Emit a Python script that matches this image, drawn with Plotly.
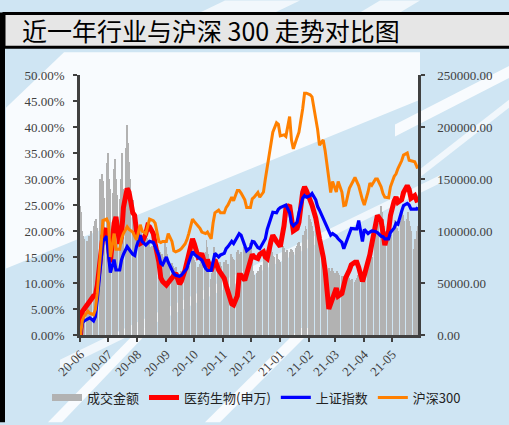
import pandas as pd
import plotly.graph_objects as go

# ---------------- data ----------------
start_date = "2020-06-01"
n_days = 260  # trading days (Mon-Fri) shown

# cumulative return (%) sampled every 2nd trading day, plus the last day
pharma = [0, 4.5, 5.0, 5.8, 6.5, 7.5, 7.7, 9.5, 15, 19,
          20.5, 16.5, 14, 21.5, 22.7, 17.5, 19, 24.5, 28.2, 27.5,
          23.5, 23, 20, 17.6, 17.8, 19.5, 21, 20.8, 19.5, 17.5,
          14, 11, 10.3, 9.6, 10, 11, 11.5, 11.9, 9.8, 10.3,
          12.5, 14, 16, 18.5, 17.5, 15, 15.2, 15.7, 13.1, 14.5,
          12.3, 13.5, 14.5, 12.5, 12, 10.9, 9.5, 8.2, 6, 5.8,
          7.5, 11.5, 11.5, 10.5, 12, 14.5, 15.5, 15, 14.7, 15.5,
          16, 15, 14.7, 18, 19.2, 18, 17.5, 17, 21, 24.3,
          25, 21.5, 20, 20.5, 21.7, 27.5, 28.5, 27.8, 26, 25,
          22.5, 21, 18.5, 15, 12.5, 5, 6, 7.3, 9, 7.5,
          8, 9.5, 11, 12.5, 13.5, 14, 14, 13, 10.3, 11.5,
          14, 15.5, 17.5, 21.5, 23, 22, 19, 17.3, 20, 23,
          25.8, 26.5, 25.5, 26, 27.4, 28.7, 28, 26.3, 26.8, 26.2,
          25.5]
shanghai = [0, 2.3, 2.7, 3.2, 3.3, 2.7, 3.5, 6.8, 14, 18,
            19, 15.5, 12, 14.5, 12.5, 12.5, 14.5, 15.5, 17, 16.5,
            15.5, 15.3, 17, 19.2, 18, 17.3, 17.6, 18, 17.8, 17,
            15.3, 13.8, 13.5, 15, 14, 12.5, 11.8, 11.5, 11.3, 11.5,
            12.4, 12.8, 14, 16, 15.5, 15, 14.7, 14.4, 12.8, 12.4,
            12.4, 14, 15.7, 15, 15.4, 15.7, 16.6, 17, 18, 17.6,
            19, 19.5, 19.2, 17.3, 16.2, 16.8, 18, 17.9, 16.8, 16.6,
            17.8, 18.5, 20.3, 22.5, 23.6, 23.5, 24.2, 24.5, 24.9, 25,
            23.5, 21.5, 21, 21.7, 23.5, 26.3, 26.8, 26.5, 26.8, 27.2,
            26, 24.7, 24, 22.5, 21.8, 20, 19.2, 19.5, 19, 18.5,
            17.8, 16.6, 17.5, 19.5, 20.5, 20.4, 20.4, 22, 18, 20.3,
            19.5, 19.8, 20, 19.9, 19.7, 19, 18.9, 18.5, 18.5, 19.7,
            20.6, 21.5, 21.3, 23.8, 24.9, 25.3, 25, 24.2, 24.3, 24.2,
            24.6]
hs300 = [0, 2.8, 3.6, 4.6, 4.2, 3.9, 4.9, 8, 17, 22,
         22.3, 21.5, 15, 19.5, 16.5, 16.5, 18.5, 19.5, 20.8, 20.3,
         19.8, 19, 18.3, 21.2, 20, 19.5, 21, 22.3, 22, 21.5,
         18, 17.8, 18, 18, 19.5, 18, 16.2, 16, 16.3, 16.6,
         17.5, 18.3, 19.5, 22.3, 21.8, 21, 20.5, 19.8, 19.5, 19.8,
         18.5, 21.5, 23.5, 24, 23.5, 23.5, 24.5, 25, 26.5, 25.8,
         27.8, 27.8, 27.3, 26, 24.5, 24.5, 26.2, 26.5, 27.4, 26.5,
         27.5, 30, 32.5, 36.5, 39, 40.8, 40.5, 38.3, 38.5, 38.2,
         42, 37.5, 35.8, 38, 39, 43.5, 46.5, 46.5, 46.2, 45.8,
         42, 39.5, 36.5, 37.5, 35.5, 30.5, 27.4, 29.5, 27.5, 29.5,
         27.5, 24.9, 25, 28.2, 29, 30.3, 29.5, 28.7, 26, 25,
         27.5, 29.2, 28.8, 30, 30, 28.5, 27.2, 26.5, 26.4, 28.5,
         30.5, 31, 32, 33.5, 34.6, 35, 33.6, 33.5, 33.3, 32.5,
         32]
# daily turnover (one row per week, Mon-Fri)
turnover = [124000, 118000, 100000, 95000, 92000,
            90000, 88000, 95000, 92000, 100000,
            105000, 110000, 108000, 112000, 103000,
            150000, 138000, 155000, 148000, 132000,
            165000, 175000, 152000, 150000, 140000,
            137000, 160000, 169000, 150000, 135000,
            131000, 150000, 175000, 160000, 140000,
            180000, 202000, 185000, 166000, 150000,
            130000, 118000, 110000, 105000, 100000,
            105000, 100000, 99000, 95000, 92000,
            95000, 93000, 90000, 88000, 85000,
            86000, 84000, 80000, 82000, 78000,
            82000, 80000, 76000, 78000, 75000,
            91000, 85000, 78000, 72000, 70000,
            69000, 66000, 64000, 62000, 65000,
            60000, 58000, 57000, 62000, 60000,
            60000, 62000, 58000, 63000, 66000,
            85000, 80000, 75000, 72000, 70000,
            65000, 61000, 68000, 72000, 70000,
            75000, 80000, 91000, 85000, 78000,
            54000, 60000, 70000, 85000, 80000,
            61000, 65000, 70000, 68000, 66000,
            70000, 67000, 72000, 65000, 68000,
            78000, 75000, 73000, 70000, 72000,
            80000, 82000, 78000, 76000, 80000,
            85000, 83000, 80000, 82000, 85000,
            88000, 85000, 70000, 62000, 58000,
            60000, 62000, 58000, 65000, 67000,
            70000, 75000, 78000, 80000, 82000,
            86000, 84000, 80000, 76000, 75000,
            78000, 75000, 73000, 72000, 70000,
            86000, 84000, 80000, 78000, 82000,
            80000, 83000, 78000, 82000, 80000,
            84000, 86000, 88000, 89000, 86000,
            96000, 92000, 100000, 105000, 102000,
            115000, 112000, 109000, 105000, 100000,
            102000, 98000, 100000, 102000, 95000,
            80000, 67000, 70000, 66000, 64000,
            64000, 62000, 60000, 64000, 62000,
            60000, 58000, 62000, 60000, 58000,
            57000, 55000, 57000, 54000, 56000,
            57000, 55000, 53000, 52000, 54000,
            51000, 53000, 55000, 58000, 60000,
            60000, 58000, 61000, 59000, 62000,
            73000, 70000, 72000, 73000, 75000,
            105000, 115000, 110000, 112000, 108000,
            124000, 118000, 112000, 105000, 100000,
            95000, 98000, 99000, 92000, 96000,
            100000, 111000, 105000, 103000, 100000,
            110000, 118000, 115000, 112000, 110000,
            112000, 118000, 110000, 105000, 100000,
            83000, 92000, 88000, 100000, 105000]

series_names = ["成交金额", "医药生物(申万)", "上证指数", "沪深300"]
left_ticks = [0, 5, 10, 15, 20, 25, 30, 35, 40, 45, 50]
right_ticks = [0, 50000, 100000, 150000, 200000, 250000]
title_text = "近一年行业与沪深 300 走势对比图"

# ---------------- build ----------------
days = pd.bdate_range(start_date, periods=n_days)
line_days = days[::2].append(days[-1:])

W, H = 509, 425
L, R, T, B = 80, 418, 75, 337          # plot-area pixel box


def px(x):
    return (x - L) / (R - L)


def py(y):
    return (B - y) / (B - T)


def poly(points, color):
    d = "M " + " L ".join(f"{px(x):.4f},{py(y):.4f}" for x, y in points) + " Z"
    return dict(type="path", xref="paper", yref="paper", path=d,
                fillcolor=color, line=dict(width=0), layer="below")


fig = go.Figure()
# bars on the base axis (drawn first, underneath); lines on the overlaying axis
fig.add_trace(go.Bar(x=days, y=turnover, yaxis="y", marker=dict(color="#b2b2b2", line=dict(width=0)),
                     showlegend=False, name=series_names[0]))
fig.add_trace(go.Scatter(x=[None], y=[None], yaxis="y2", mode="lines", name=series_names[0],
                         line=dict(color="#b2b2b2", width=7)))
fig.add_trace(go.Scatter(x=line_days, y=pharma, yaxis="y2", mode="lines", name=series_names[1],
                         line=dict(color="#ff0000", width=5)))
fig.add_trace(go.Scatter(x=line_days, y=shanghai, yaxis="y2", mode="lines", name=series_names[2],
                         line=dict(color="#0000ff", width=3.2)))
fig.add_trace(go.Scatter(x=line_days, y=hs300, yaxis="y2", mode="lines", name=series_names[3],
                         line=dict(color="#ff8000", width=3)))

white = "rgba(255,255,255,0.85)"
shapes = [
    # big white wedge upper left
    poly([(6, 270), (6, 108), (64, 52), (420, 52), (420, 100)], white),
    # thin stripe inside plot
    poly([(60, 362), (440, 176), (440, 184), (60, 372)], "rgba(255,255,255,0.7)"),
    # stripes lower area
    poly([(48, 425), (140, 330), (152, 330), (62, 425)], white),
    poly([(205, 425), (300, 330), (314, 330), (220, 425)], white),
    # right side stripes
    poly([(395, 125), (509, 66), (509, 78), (395, 137)], white),
    poly([(420, 170), (509, 100), (509, 108), (420, 178)], "rgba(255,255,255,0.7)"),
    # top strip rays
    poly([(225, 0), (300, 0), (275, 12), (200, 12)], "rgba(255,255,255,0.7)"),
    poly([(380, 0), (420, 0), (400, 12), (360, 12)], "rgba(255,255,255,0.7)"),
    # left black frame
    dict(type="rect", xref="paper", yref="paper", x0=px(0), x1=px(5), y0=py(425), y1=py(12),
         fillcolor="#000000", line=dict(width=0), layer="above"),
    # title box
    dict(type="rect", xref="paper", yref="paper", x0=px(4), x1=px(520), y0=py(47), y1=py(13),
         fillcolor="#e6e6e6", line=dict(color="#000000", width=3), layer="above"),
]

axis_font = dict(family="Liberation Serif, DejaVu Serif, serif", size=13, color="#404040")

fig.update_layout(
    width=W, height=H,
    margin=dict(l=L, r=W - R, t=T, b=H - B, pad=0),
    paper_bgcolor="#cfe5f3",
    plot_bgcolor="rgba(0,0,0,0)",
    bargap=0,
    shapes=shapes,
    showlegend=True,
    legend=dict(orientation="h", x=px(47), y=py(400), xanchor="left", yanchor="middle",
                font=dict(family="Noto Sans CJK SC", size=13, color="#222222"),
                bgcolor="rgba(0,0,0,0)", itemwidth=30, tracegroupgap=0),
    xaxis=dict(type="date", range=["2020-05-31 12:00", "2021-05-28 12:00"],
               tick0="2020-06-01", dtick="M1", tickformat="%y-%m", tickangle=-45,
               ticks="outside", ticklen=4, tickwidth=2, tickcolor="#404040",
               showline=True, linecolor="#404040", linewidth=2.5, showgrid=False,
               zeroline=False, tickfont=axis_font),
    yaxis=dict(range=[0, 250000], side="right", tickvals=right_ticks,
               ticktext=[f"{v:.2f}" for v in right_ticks],
               ticks="outside", ticklen=4, tickwidth=2, tickcolor="#404040",
               showline=True, linecolor="#404040", linewidth=2.5, showgrid=False,
               zeroline=False, tickfont=axis_font, ticklabelstandoff=10),
    yaxis2=dict(range=[0, 50], overlaying="y", side="left", tickvals=left_ticks,
                ticktext=[f"{v:.2f}%" for v in left_ticks],
                ticks="outside", ticklen=4, tickwidth=2, tickcolor="#404040",
                showline=True, linecolor="#404040", linewidth=2.5, showgrid=False,
                zeroline=False, tickfont=axis_font, ticklabelstandoff=6),
    annotations=[dict(text=title_text, xref="paper", yref="paper", x=px(20), y=py(30),
                      xanchor="left", yanchor="middle", showarrow=False,
                      font=dict(family="Noto Sans CJK SC", size=25, color="#000000"))],
)

fig.write_html("out.html", config={"displayModeBar": False},
               post_script="document.body.style.margin='0';")
